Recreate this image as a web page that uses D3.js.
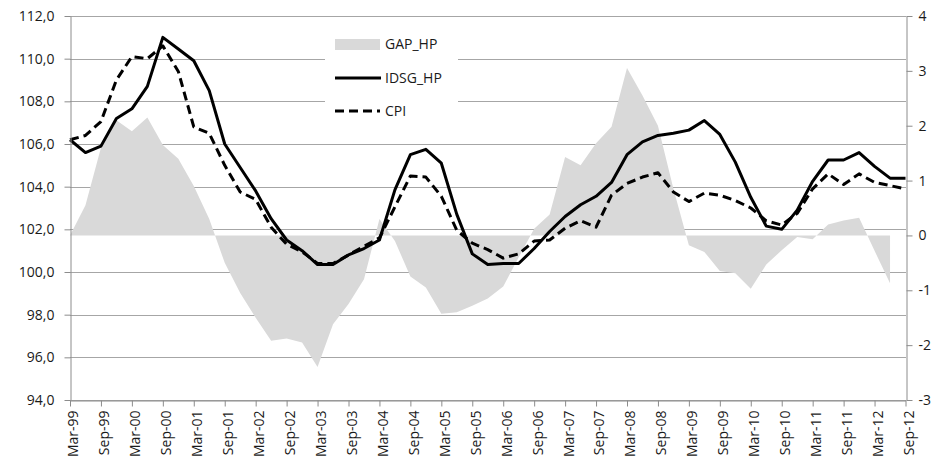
<!DOCTYPE html>
<html><head><meta charset="utf-8">
<script src="https://cdn.jsdelivr.net/npm/d3@7"></script>
<style>
body{margin:0;background:#fff;}
text{font-family:"Open Sans",sans-serif;fill:#1a1a1a;}
</style>
</head><body>
<svg id="c" width="938" height="465"></svg>
<script>
const categories = [
 "Mar-99","Jun-99","Sep-99","Dec-99","Mar-00","Jun-00","Sep-00","Dec-00",
 "Mar-01","Jun-01","Sep-01","Dec-01","Mar-02","Jun-02","Sep-02","Dec-02",
 "Mar-03","Jun-03","Sep-03","Dec-03","Mar-04","Jun-04","Sep-04","Dec-04",
 "Mar-05","Jun-05","Sep-05","Dec-05","Mar-06","Jun-06","Sep-06","Dec-06",
 "Mar-07","Jun-07","Sep-07","Dec-07","Mar-08","Jun-08","Sep-08","Dec-08",
 "Mar-09","Jun-09","Sep-09","Dec-09","Mar-10","Jun-10","Sep-10","Dec-10",
 "Mar-11","Jun-11","Sep-11","Dec-11","Mar-12","Jun-12","Sep-12"];

const gapHP = [0.0,0.55,1.6,2.1,1.9,2.15,1.65,1.4,0.9,0.3,
 -0.5,-1.05,-1.5,-1.92,-1.88,-1.95,-2.4,-1.62,-1.25,-0.8,
 0.3,-0.1,-0.75,-0.95,-1.43,-1.4,-1.28,-1.15,-0.93,-0.4,
 0.12,0.38,1.43,1.28,1.68,1.98,3.05,2.55,2.0,0.85,
 -0.18,-0.3,-0.65,-0.69,-0.97,-0.53,-0.27,-0.03,-0.07,0.2,
 0.27,0.32,-0.28,-0.87,null];

const idsgHP = [106.2,105.6,105.9,107.2,107.65,108.7,111.0,110.45,109.9,108.5,
 106.0,104.9,103.8,102.5,101.5,101.0,100.35,100.35,100.8,101.1,
 101.5,103.85,105.5,105.75,105.1,102.7,100.85,100.35,100.4,100.4,
 101.1,101.9,102.6,103.15,103.55,104.2,105.5,106.1,106.4,106.5,
 106.65,107.1,106.45,105.15,103.5,102.15,102.0,102.9,104.25,105.25,
 105.25,105.6,104.95,104.4,104.4];

const cpi = [106.2,106.4,107.05,109.0,110.1,110.0,110.6,109.4,106.8,106.5,
 105.0,103.75,103.4,102.1,101.3,100.95,100.4,100.4,100.8,101.2,
 101.6,103.05,104.5,104.45,103.55,101.95,101.35,101.05,100.65,100.85,
 101.45,101.5,102.05,102.4,102.1,103.6,104.15,104.45,104.65,103.75,
 103.3,103.7,103.6,103.35,103.0,102.4,102.2,102.75,103.9,104.6,
 104.1,104.6,104.2,104.05,103.9];

const leftTicks = [94,96,98,100,102,104,106,108,110,112];
const rightTicks = [-3,-2,-1,0,1,2,3,4];
const xTickLabels = categories.filter((d,i)=>i%2===0);
const legendLabels = ["GAP_HP","IDSG_HP","CPI"];

const svg = d3.select("#c");
const x = d3.scalePoint().domain(categories).range([70,905.5]);
const yL = d3.scaleLinear().domain([94,112]).range([400,16]);
const yR = d3.scaleLinear().domain([-3,4]).range([400,16]);

const gridC = "#a6a6a6", axisC = "#8c8c8c";

// gridlines
svg.append("g").selectAll("line").data(leftTicks).join("line")
  .attr("x1",70).attr("x2",906)
  .attr("y1",d=>Math.round(yL(d))+0.5).attr("y2",d=>Math.round(yL(d))+0.5)
  .attr("stroke",gridC).attr("stroke-width",1);

// area
const area = d3.area().defined(d=>d!=null)
  .x((d,i)=>x(categories[i])).y0(yR(0)).y1(d=>yR(d));
svg.append("path").datum(gapHP).attr("d",area).attr("fill","#d9d9d9");

// lines
const line = s => d3.line().x((d,i)=>x(categories[i])).y(d=>yL(d))(s);
svg.append("path").attr("d",line(cpi)).attr("fill","none")
  .attr("stroke","#000").attr("stroke-width",3).attr("stroke-dasharray","9,5")
  .attr("stroke-linejoin","round");
svg.append("path").attr("d",line(idsgHP)).attr("fill","none")
  .attr("stroke","#000").attr("stroke-width",3).attr("stroke-linejoin","round");

// axes
const fmt = d=>d.toFixed(1).replace(".",",");
const gL = svg.append("g").attr("transform","translate(70.5,0)")
  .call(d3.axisLeft(yL).tickValues(leftTicks).tickFormat(fmt).tickSize(6).tickSizeOuter(0).tickPadding(10));
const gR = svg.append("g").attr("transform","translate(906.5,0)")
  .call(d3.axisRight(yR).tickValues(rightTicks).tickFormat(d=>String(d)).tickSize(6).tickSizeOuter(0).tickPadding(6));
const gB = svg.append("g").attr("transform","translate(0,400.5)")
  .call(d3.axisBottom(x).tickValues(xTickLabels).tickSize(6).tickSizeOuter(0));
gB.selectAll("text").attr("transform","rotate(-90)").attr("text-anchor","end")
  .attr("x",-10).attr("y",3).attr("dy","0.35em");
[gL,gR,gB].forEach(g=>{
  g.selectAll("path,line").attr("stroke",axisC);
  g.selectAll("text").style("font-size","14px").style("font-family","'Open Sans',sans-serif").attr("fill","#1a1a1a");
});

// legend
const lg = svg.append("g");
lg.append("rect").attr("x",325).attr("y",26).attr("width",133).attr("height",98).attr("fill","#fff");
lg.append("rect").attr("x",335).attr("y",39).attr("width",45).attr("height",11).attr("fill","#d9d9d9");
lg.append("line").attr("x1",335).attr("x2",381).attr("y1",78).attr("y2",78).attr("stroke","#000").attr("stroke-width",3);
lg.append("line").attr("x1",335).attr("x2",380).attr("y1",111).attr("y2",111).attr("stroke","#000").attr("stroke-width",3).attr("stroke-dasharray","9,5");
lg.selectAll("text").data(legendLabels).join("text")
  .attr("x",385).attr("y",(d,i)=>[44.5,78,111.5][i]).attr("dy","0.35em")
  .style("font-size","14px").text(d=>d);
</script>
</body></html>
